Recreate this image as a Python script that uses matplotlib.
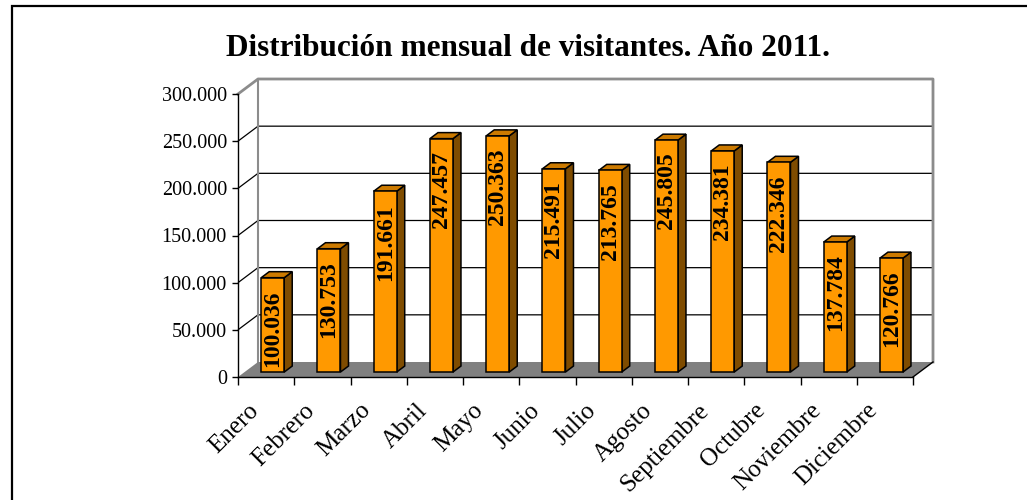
import matplotlib
matplotlib.use("Agg")
import matplotlib.pyplot as plt
from matplotlib.patches import Polygon, Rectangle
from matplotlib.ticker import FuncFormatter, MultipleLocator, FixedLocator
from matplotlib.transforms import ScaledTranslation

# ---- data ----
months = ["Enero", "Febrero", "Marzo", "Abril", "Mayo", "Junio", "Julio",
          "Agosto", "Septiembre", "Octubre", "Noviembre", "Diciembre"]
visitors = [100036, 130753, 191661, 247457, 250363, 215491, 213765,
            245805, 234381, 222346, 137784, 120766]
value_labels = ["100.036", "130.753", "191.661", "247.457", "250.363", "215.491",
                "213.765", "245.805", "234.381", "222.346", "137.784", "120.766"]
title = "Distribución mensual de visitantes. Año 2011."
ymax = 300000
ystep = 50000

# ---- style ----
SERIF = ["Liberation Serif", "DejaVu Serif"]
FRONT = "#FF9900"
TOP = "#CC7A00"
SIDE = "#7F4C00"
FLOOR = "#808080"
WALLEDGE = "#8C8C8C"

W, H, DPI = 1027, 500, 100
fig = plt.figure(figsize=(W / DPI, H / DPI), dpi=DPI)
fig.patch.set_facecolor("white")

# axes placement (pixels, from top-left)
L, R, T, B = 238, 913, 94, 377
ax = fig.add_axes([L / W, 1 - B / H, (R - L) / W, (B - T) / H])
n = len(months)
ax.set_xlim(-0.5, n - 0.5)
ax.set_ylim(0, ymax)
ax.set_facecolor("none")

px_x = (n) / (R - L)          # data units per pixel (x)
px_y = ymax / (B - T)         # data units per pixel (y)
DX = 20 * px_x                # depth offset
DY = 15 * px_y

x0, x1 = -0.5, n - 0.5
# back wall
ax.add_patch(Polygon([(x0 + DX, DY), (x1 + DX, DY), (x1 + DX, ymax + DY), (x0 + DX, ymax + DY)],
                     closed=True, facecolor="white", edgecolor="none", zorder=0, clip_on=False))
# gridlines (side wall diagonals + back wall)
for v in range(ystep, ymax, ystep):
    ax.plot([x0, x0 + DX, x1 + DX], [v, v + DY, v + DY], color="black", lw=0.9,
            zorder=1, clip_on=False, solid_capstyle="butt")
# wall edges
ax.plot([x0, x0 + DX, x1 + DX, x1 + DX], [ymax, ymax + DY, ymax + DY, DY],
        color=WALLEDGE, lw=2.0, zorder=1, clip_on=False)
ax.plot([x0 + DX, x0 + DX], [DY, ymax + DY], color=WALLEDGE, lw=1.5, zorder=1, clip_on=False)
# floor
ax.add_patch(Polygon([(x0, 0), (x1, 0), (x1 + DX, DY), (x0 + DX, DY)], closed=True,
                     facecolor=FLOOR, edgecolor="none", zorder=1.5, clip_on=False))
ax.plot([x1, x1 + DX], [0, DY], color="black", lw=1.0, zorder=1.6, clip_on=False)

# bars
bw = 23 * px_x
d0, bd = 0.33, 0.40
for i, v in enumerate(visitors):
    l = i - bw / 2 + d0 * DX
    r = i + bw / 2 + d0 * DX
    yb = d0 * DY
    yt = v + d0 * DY
    ox, oy = bd * DX, bd * DY
    kw = dict(closed=True, edgecolor="black", lw=1.1, zorder=3, clip_on=False, joinstyle="miter")
    ax.add_patch(Polygon([(r, yb), (r, yt), (r + ox, yt + oy), (r + ox, yb + oy)], facecolor=SIDE, **kw))
    ax.add_patch(Polygon([(l, yt), (r, yt), (r + ox, yt + oy), (l + ox, yt + oy)], facecolor=TOP, **kw))
    ax.add_patch(Polygon([(l, yb), (r, yb), (r, yt), (l, yt)], facecolor=FRONT, **kw))
    ax.text((l + r) / 2, v - 46 * px_y, value_labels[i], rotation=90, ha="center", va="center",
            family=SERIF, fontweight="bold", fontsize=17, color="black", zorder=4, clip_on=False)

# axes spines / ticks
for s in ["top", "right"]:
    ax.spines[s].set_visible(False)
for s in ["left", "bottom"]:
    ax.spines[s].set_color("black")
    ax.spines[s].set_linewidth(1.0)
    ax.spines[s].set_zorder(5)

ax.yaxis.set_major_locator(MultipleLocator(ystep))
ax.yaxis.set_major_formatter(FuncFormatter(lambda v, p: f"{int(v):,}".replace(",", ".")))
ax.tick_params(axis="y", direction="out", length=4, width=1.0, pad=4, labelsize=14.5)
for t in ax.get_yticklabels():
    t.set_family(SERIF)

# category labels
ax.set_xticks(range(n))
ax.set_xticklabels([])
ax.tick_params(axis="x", which="major", length=0)
ax.xaxis.set_minor_locator(FixedLocator([i + 0.5 for i in range(-1, n)]))
ax.tick_params(axis="x", which="minor", direction="out", length=5.5, width=1.0)
lab_tr = ax.get_xaxis_transform() + ScaledTranslation(-11 / DPI, -30 / DPI, fig.dpi_scale_trans)
for i, m in enumerate(months):
    ax.text(i, 0, m, transform=lab_tr, rotation=45, ha="right", va="center",
            rotation_mode="anchor", family=SERIF, fontsize=18, clip_on=False)

# title
fig.text(528 / W, 1 - 49 / H, title, ha="center", va="center", family=SERIF,
         fontweight="bold", fontsize=22.5)

# outer frame
fig.patches.append(Rectangle((12 / W, -0.05), 1.1, 1 - 6 / H + 0.05, transform=fig.transFigure,
                             fill=False, edgecolor="black", lw=1.6))

fig.savefig("out.png", dpi=DPI)
